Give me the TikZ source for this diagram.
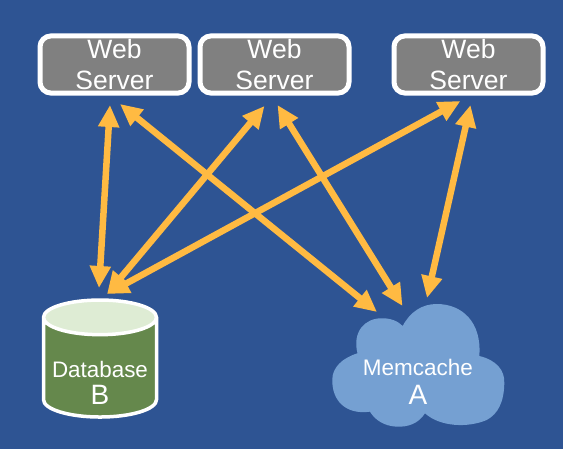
\documentclass[tikz,border=0pt]{standalone}
\usepackage{fontspec}
\setmainfont{Liberation Sans}
\usetikzlibrary{shapes.geometric, arrows.meta}
\definecolor{slide}{RGB}{46, 84, 147}
\definecolor{amber}{RGB}{255, 186, 66}
\definecolor{dbgreen}{RGB}{101, 136, 76}
\definecolor{dbtop}{RGB}{222, 236, 212}
\definecolor{cloudblue}{RGB}{117, 160, 210}
\definecolor{boxgray}{RGB}{128, 128, 128}
\tikzset{
    server/.style={rectangle, rounded corners=11pt, draw=white, line width=5pt, fill=boxgray, text=white, align=center, outer sep=0pt, minimum width=149pt, minimum height=57pt, font=\fontsize{26.5}{31}\selectfont},
    db/.style={cylinder, shape border rotate=90, aspect=5.2, draw=white, line width=3.5pt, cylinder uses custom fill, cylinder body fill=dbgreen, cylinder end fill=dbtop, outer sep=0pt, minimum width=113pt, minimum height=117pt},
    caption/.style={text=white, align=center, inner sep=0pt},
    link/.style={{Triangle[length=22pt, width=20pt]}-{Triangle[length=22pt, width=20pt]}, line width=6.5pt, amber}
}
\begin{document}
\begin{tikzpicture}[x=1pt, y=-1pt]
    \fill[slide] (0,0) rectangle (563,449);
    \node[server] (web1) at (114.5,64.5) {Web\\Server};
    \node[server] (web2) at (274.5,64.5) {Web\\Server};
    \node[server] (web3) at (468.5,64.5) {Web\\Server};
    \node[db] (database) at (100,371) {};
    \node[caption] (dblabel) at (100,383) {\fontsize{22.4}{26}\selectfont Database\\[7pt]\fontsize{28}{28}\selectfont B};
    \fill[cloudblue] (402.7,326) .. controls (410,312) and (422,304) .. (436.7,304)
        .. controls (462,304) and (482,322) .. (479.3,356)
        .. controls (496,360) and (505,370) .. (504.3,383.3)
        .. controls (504,402) and (498,414) .. (486.7,420)
        .. controls (468,428) and (440,427) .. (425,413.3)
        .. controls (418,424) and (408,427) .. (396.7,426.7)
        .. controls (384,426) and (375,420) .. (370,411.7)
        .. controls (345,415) and (332,400) .. (332.3,380)
        .. controls (332,368) and (342,358) .. (357.5,353.3)
        .. controls (352,332) and (365,318) .. (381.7,318.3)
        .. controls (390,318) and (398,321) .. (402.7,326) -- cycle;
    \node[caption] (memcache) at (418,382) {\fontsize{22.5}{27}\selectfont Memcache\\[9pt]\fontsize{28}{28}\selectfont A};
    \draw[link] ([shift={(-4.5,40.5)}]web1.center) -- ([shift={(-1,-83)}]database.center);
    \draw[link] ([shift={(5.5,39.5)}]web1.center) -- ([shift={(-41,-70)}]memcache.center);
    \draw[link] ([shift={(-10,41.5)}]web2.center) -- ([shift={(7,-77)}]database.center);
    \draw[link] ([shift={(3,40.5)}]web2.center) -- ([shift={(-15.5,-76)}]memcache.center);
    \draw[link] ([shift={(-8,36.5)}]web3.center) -- ([shift={(7,-77)}]database.center);
    \draw[link] ([shift={(2,40.5)}]web3.center) -- ([shift={(9,-84)}]memcache.center);
\end{tikzpicture}
\end{document}
